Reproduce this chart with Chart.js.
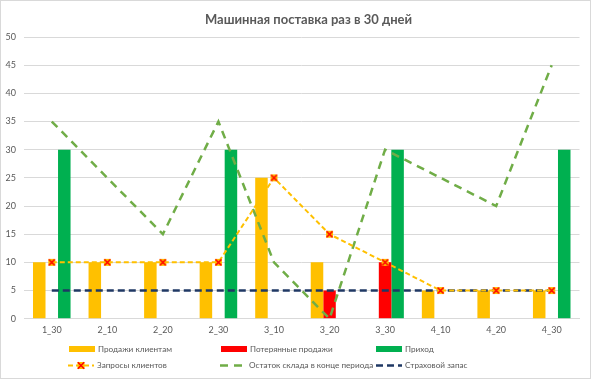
<!DOCTYPE html>
<html><head><meta charset="utf-8">
<script src="https://cdn.jsdelivr.net/npm/chart.js@4/dist/chart.umd.min.js"></script>
<style>
html,body{margin:0;padding:0;background:#fff;}
#wrap{position:relative;width:591px;height:379px;overflow:hidden;font-family:Lato,sans-serif;color:#595959;}
#frame{position:absolute;left:0;top:0;width:591px;height:379px;box-sizing:border-box;border:1px solid #d9d9d9;pointer-events:none;}
#title{position:absolute;top:11px;left:205px;font-size:13px;font-weight:bold;white-space:nowrap;color:#595959;}
canvas{position:absolute;left:0;top:0;}
.lg{position:absolute;font-size:8.2px;white-space:nowrap;display:flex;align-items:center;height:12px;line-height:12px;}
.lg svg{margin-right:3px;}
</style></head>
<body>
<div id="wrap">
<canvas id="c" width="591" height="379"></canvas>
<div id="title">Машинная поставка раз в 30 дней</div>
<div id="legend"></div>
<div id="frame"></div>
</div>
<script>
const categories = ["1_30","2_10","2_20","2_30","3_10","3_20","3_30","4_10","4_20","4_30"];
const salesToClients = [10,10,10,10,25,10,0,5,5,5];
const lostSales = [0,0,0,0,0,5,10,0,0,0];
const arrivals = [30,0,0,30,0,0,30,0,0,30];
const clientRequests = [10,10,10,10,25,15,10,5,5,5];
const stockEnd = [35,25,15,35,10,0,30,25,20,45];
const safetyStock = [5,5,5,5,5,5,5,5,5,5];
const yTicks = [0,5,10,15,20,25,30,35,40,45,50];

const seriesNames = ["Продажи клиентам","Потерянные продажи","Приход","Запросы клиентов","Остаток склада в конце периода","Страховой запас"];
const COL = {sales:"#FFC000", lost:"#FF0000", arr:"#00B050", req:"#FFC000", stock:"#70AD47", safety:"#1F3864"};

// marker: orange square with red X
function makeMarker(){
  const m = document.createElement('canvas');
  m.width = 9; m.height = 9;
  const g = m.getContext('2d');
  g.fillStyle = "#FFC000"; g.fillRect(1,1,7,7);
  g.strokeStyle = "#FF0000"; g.lineWidth = 1.6;
  g.beginPath(); g.moveTo(1.5,1.5); g.lineTo(7.5,7.5); g.moveTo(7.5,1.5); g.lineTo(1.5,7.5); g.stroke();
  return m;
}
const marker = makeMarker();

new Chart(document.getElementById('c'), {
  type: 'bar',
  data: {
    labels: categories,
    datasets: [
      {type:'line', label: seriesNames[3], data: clientRequests, borderColor: COL.req, borderWidth: 2, borderDash:[5,3], pointStyle: marker, pointRadius: 4.5, pointHoverRadius: 4.5, tension:0, order: 0, fill:false},
      {type:'line', label: seriesNames[5], data: safetyStock, borderColor: COL.safety, borderWidth: 2.5, borderDash:[7,4], pointRadius: 0, tension:0, order: 1, fill:false},
      {type:'line', label: seriesNames[4], data: stockEnd, borderColor: COL.stock, borderWidth: 2.5, borderDash:[8,6], pointRadius: 0, tension:0, order: 2, fill:false},
      {label: seriesNames[0], data: salesToClients, backgroundColor: COL.sales, order: 10, categoryPercentage: 0.676, barPercentage: 1},
      {label: seriesNames[1], data: lostSales, backgroundColor: COL.lost, order: 10, categoryPercentage: 0.676, barPercentage: 1},
      {label: seriesNames[2], data: arrivals, backgroundColor: COL.arr, order: 10, categoryPercentage: 0.676, barPercentage: 1}
    ]
  },
  options: {
    responsive: false,
    animation: false,
    events: [],
    layout: {padding: {top: 37, right: 11.5, bottom: 37.5, left: 0}},
    plugins: {legend: {display: false}, title: {display: false}, tooltip: {enabled: false}},
    scales: {
      x: {
        grid: {display: false, drawTicks: false},
        border: {display: true, color: "#d9d9d9", width: 1},
        ticks: {color: "#595959", font: {family: "Lato", size: 9}, padding: 6, maxRotation: 0}
      },
      y: {
        min: 0, max: 50,
        afterFit: s => { s.width = 24; },
        afterBuildTicks: s => { s.ticks = yTicks.map(v => ({value: v})); },
        grid: {color: "#d9d9d9", drawTicks: false},
        border: {display: false},
        ticks: {color: "#595959", font: {family: "Lato", size: 9}, padding: 8}
      }
    }
  }
});

// HTML legend in a 3-column grid
function barSw(c){ return `<svg width="26" height="8"><rect x="0" y="1" width="26" height="6" fill="${c}"/></svg>`; }
function lineSw(c, dash, w, mk){
  let s = `<svg width="26" height="9"><line x1="0" y1="4.5" x2="26" y2="4.5" stroke="${c}" stroke-width="${w}" stroke-dasharray="${dash}"/>`;
  if (mk) s += `<rect x="9.5" y="1" width="7" height="7" fill="#FFC000"/><path d="M9.8 1.3 L16.2 7.7 M16.2 1.3 L9.8 7.7" stroke="#FF0000" stroke-width="1.5"/>`;
  return s + `</svg>`;
}
const legendItems = [
  {sw: barSw(COL.sales), x: 69, y: 343},
  {sw: barSw(COL.lost), x: 221, y: 343},
  {sw: barSw(COL.arr), x: 376, y: 343},
  {sw: lineSw(COL.req, "5,3", 2, true), x: 68, y: 359},
  {sw: lineSw(COL.stock, "8,6", 2.5, false), x: 220, y: 359},
  {sw: lineSw(COL.safety, "7,4", 2.5, false), x: 376, y: 359}
];
document.getElementById('legend').innerHTML = legendItems.map((it,i) =>
  `<div class="lg" style="left:${it.x}px;top:${it.y}px">${it.sw}<span>${seriesNames[i]}</span></div>`).join('');
</script>
</body></html>
